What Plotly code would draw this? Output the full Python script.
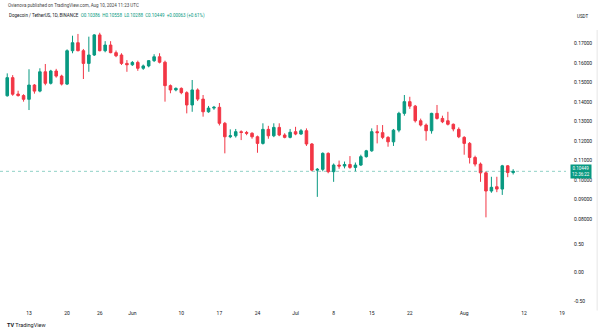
import pandas as pd
import plotly.graph_objects as go

# ---- data ----
dates = pd.date_range("2024-05-09", "2024-08-10", freq="D")

opens = [0.1432, 0.1525, 0.1441, 0.1433, 0.1414, 0.1487, 0.1456, 0.1555, 0.1496, 0.1559,
         0.1533, 0.1492, 0.1663, 0.1704, 0.1663, 0.1598, 0.1641, 0.1744, 0.1663, 0.1692,
         0.1653, 0.1641, 0.1598,
         0.1591, 0.1603, 0.1573, 0.1585, 0.1612, 0.1632, 0.1604, 0.1484, 0.1462, 0.1470,
         0.1448, 0.1385, 0.1462, 0.1415, 0.1350, 0.1369, 0.1373, 0.1291, 0.1222, 0.1227,
         0.1248, 0.1244, 0.1240, 0.1222, 0.1188, 0.1260, 0.1227, 0.1270, 0.1231, 0.1219,
         0.1248, 0.1236, 0.1253, 0.1185, 0.1051, 0.1055, 0.1137, 0.1043, 0.1077, 0.1072,
         0.1080, 0.1065, 0.1077, 0.1120, 0.1150, 0.1248, 0.1243, 0.1219, 0.1196, 0.1256,
         0.1342, 0.1402, 0.1379, 0.1304, 0.1282, 0.1253, 0.1342, 0.1316, 0.1304, 0.1286,
         0.1260,
         0.1219, 0.1188, 0.1116, 0.1082, 0.1037, 0.0944, 0.0966, 0.0954, 0.1073, 0.10386]

highs = [0.1547, 0.1538, 0.1458, 0.1440, 0.1568, 0.1492, 0.1573, 0.1595, 0.1565, 0.1570,
         0.1540, 0.1670, 0.1740, 0.1749, 0.1672, 0.1735, 0.1748, 0.1755, 0.1712, 0.1712,
         0.1664, 0.1650, 0.1615,
         0.1610, 0.1612, 0.1592, 0.1615, 0.1645, 0.1650, 0.1612, 0.1490, 0.1475, 0.1475,
         0.1455, 0.1513, 0.1470, 0.1436, 0.1380, 0.1380, 0.1395, 0.1298, 0.1260, 0.1262,
         0.1255, 0.1252, 0.1245, 0.1228, 0.1291, 0.1278, 0.1291, 0.1291, 0.1240, 0.1262,
         0.1273, 0.1262, 0.1265, 0.1190, 0.1062, 0.1142, 0.1142, 0.1085, 0.1100, 0.1095,
         0.1123, 0.1090, 0.1130, 0.1155, 0.1265, 0.1282, 0.1282, 0.1225, 0.1262, 0.1350,
         0.1436, 0.1427, 0.1385, 0.1315, 0.1290, 0.1345, 0.1385, 0.1330, 0.1350, 0.1290,
         0.1270,
         0.1225, 0.1195, 0.1125, 0.1090, 0.1045, 0.1017, 0.1017, 0.1078, 0.1077, 0.10558]

lows = [0.1428, 0.1432, 0.1428, 0.1402, 0.1359, 0.1443, 0.1450, 0.1486, 0.1490, 0.1525,
        0.1485, 0.1487, 0.1650, 0.1660, 0.1518, 0.1555, 0.1636, 0.1660, 0.1655, 0.1650,
        0.1630, 0.1590, 0.1555,
        0.1585, 0.1560, 0.1565, 0.1578, 0.1605, 0.1598, 0.1402, 0.1445, 0.1455, 0.1440,
        0.1342, 0.1350, 0.1405, 0.1325, 0.1345, 0.1360, 0.1280, 0.1137, 0.1215, 0.1218,
        0.1205, 0.1230, 0.1212, 0.1140, 0.1182, 0.1212, 0.1220, 0.1225, 0.1214, 0.1214,
        0.1230, 0.1232, 0.1175, 0.1045, 0.0914, 0.1045, 0.1035, 0.0991, 0.1058, 0.1060,
        0.1058, 0.1045, 0.1072, 0.1115, 0.1145, 0.1188, 0.1210, 0.1171, 0.1175, 0.1245,
        0.1330, 0.1365, 0.1295, 0.1275, 0.1202, 0.1238, 0.1310, 0.1292, 0.1280, 0.1250,
        0.1215,
        0.1130, 0.1085, 0.1070, 0.0991, 0.0809, 0.0935, 0.0938, 0.0924, 0.1015, 0.10288]

closes = [0.1525, 0.1440, 0.1433, 0.1414, 0.1487, 0.1456, 0.1555, 0.1496, 0.1559, 0.1533,
          0.1492, 0.1663, 0.1704, 0.1663, 0.1598, 0.1641, 0.1744, 0.1663, 0.1692, 0.1653,
          0.1637, 0.1598, 0.1591,
          0.1603, 0.1573, 0.1585, 0.1612, 0.1632, 0.1604, 0.1484, 0.1462, 0.1470, 0.1448,
          0.1385, 0.1462, 0.1415, 0.1350, 0.1369, 0.1373, 0.1291, 0.1222, 0.1227, 0.1248,
          0.1244, 0.1240, 0.1222, 0.1188, 0.1260, 0.1227, 0.1270, 0.1231, 0.1219, 0.1245,
          0.1236, 0.1253, 0.1185, 0.1051, 0.1055, 0.1137, 0.1043, 0.1077, 0.1072, 0.1080,
          0.1065, 0.1077, 0.1120, 0.1150, 0.1248, 0.1243, 0.1219, 0.1196, 0.1256, 0.1342,
          0.1402, 0.1379, 0.1304, 0.1282, 0.1253, 0.1342, 0.1316, 0.1299, 0.1286, 0.1262,
          0.1222,
          0.1188, 0.1116, 0.1082, 0.1037, 0.0944, 0.0963, 0.0954, 0.1073, 0.10386, 0.10449]

price_ticks = [0.08, 0.09, 0.10, 0.11, 0.12, 0.13, 0.14, 0.15, 0.16, 0.17]
pane_ticks = [0.5, 0.0, -0.5]
x_tick_dates = ["2024-05-13", "2024-05-20", "2024-05-26", "2024-06-01", "2024-06-10",
                "2024-06-17", "2024-06-24", "2024-07-01", "2024-07-08", "2024-07-15",
                "2024-07-22", "2024-08-01", "2024-08-12", "2024-08-19"]
x_tick_text = ["13", "20", "26", "Jun", "10", "17", "24", "Jul", "8", "15", "22", "Aug", "12", "19"]

UP = "#089981"
DOWN = "#F23645"
TXT = "#131722"
FONT = "Roboto"

fig = go.Figure()
fig.add_trace(go.Candlestick(
    x=dates, open=opens, high=highs, low=lows, close=closes,
    increasing=dict(line=dict(color=UP, width=1), fillcolor=UP),
    decreasing=dict(line=dict(color=DOWN, width=1), fillcolor=DOWN),
    whiskerwidth=0, xaxis="x", yaxis="y", showlegend=False, hoverinfo="skip",
))
# empty lower pane (indicator pane without data)
fig.add_trace(go.Scatter(x=[None], y=[None], xaxis="x", yaxis="y2",
                         showlegend=False, hoverinfo="skip"))

last_close = closes[-1]

x0 = pd.Timestamp("2024-05-13") - pd.Timedelta(days=5.331)
x1 = pd.Timestamp("2024-05-13") + pd.Timedelta(days=98.713)

fig.update_layout(
    width=600, height=333,
    margin=dict(l=0, r=34, t=30, b=28),
    paper_bgcolor="white", plot_bgcolor="white",
    font=dict(family=FONT, size=5, color=TXT),
    boxgap=0.33,
    xaxis=dict(
        type="date", range=[x0, x1], anchor="y2",
        rangeslider=dict(visible=False),
        showgrid=False, zeroline=False, showline=False,
        tickmode="array", tickvals=x_tick_dates, ticktext=x_tick_text,
        ticks="outside", ticklen=3, tickcolor="rgba(0,0,0,0)",
        tickfont=dict(size=5, color=TXT, family=FONT),
    ),
    yaxis=dict(
        domain=[0.265, 1.0], range=[0.07333, 0.17692], side="right", anchor="x",
        showgrid=False, zeroline=False, showline=False,
        tickmode="array", tickvals=price_ticks,
        ticktext=[f"{v:.5f}" for v in price_ticks],
        ticks="outside", ticklen=6, tickcolor="rgba(0,0,0,0)",
        tickfont=dict(size=5, color=TXT, family=FONT),
    ),
    yaxis2=dict(
        domain=[0.0, 0.2545], range=[-0.570, 0.658], side="right", anchor="x",
        showgrid=False, zeroline=False, showline=False,
        tickmode="array", tickvals=pane_ticks,
        ticktext=[f"{v:.2f}" for v in pane_ticks],
        ticks="outside", ticklen=6, tickcolor="rgba(0,0,0,0)",
        tickfont=dict(size=5, color=TXT, family=FONT),
    ),
)

# current price line
fig.add_shape(type="line", xref="paper", yref="y", x0=0, x1=1.0,
              y0=last_close, y1=last_close,
              line=dict(color="rgba(8,153,129,0.45)", width=1, dash="dot"))

# right border line of the chart frame
fig.add_shape(type="line", xref="paper", yref="paper", x0=1.055, x1=1.055, y0=-0.02, y1=1.0,
              line=dict(color="#e6e6e6", width=1))

annotations = [
    dict(text="Ovienova published on TradingView.com, Aug 10, 2024 11:23 UTC",
         xref="paper", yref="paper", x=0.01, y=1.0 + 25 / 275, xanchor="left", yanchor="middle",
         showarrow=False, font=dict(size=4.5, color="#444", family=FONT)),
    dict(text=("Dogecoin / TetherUS, 1D, BINANCE  "
               f"<span style='color:{UP}'>O0.10386  H0.10558  L0.10288  C0.10449  +0.00063 (+0.61%)</span>"),
         xref="paper", yref="paper", x=0.012, y=1.0 + 14 / 275, xanchor="left", yanchor="middle",
         showarrow=False, font=dict(size=4.5, color=TXT, family=FONT)),
    dict(text="USDT", xref="paper", yref="paper", x=1.03, y=1.0 + 13 / 275,
         xanchor="center", yanchor="middle", showarrow=False,
         font=dict(size=4.5, color=TXT, family=FONT)),
    dict(text=f"{last_close:.5f}<br>12:36:22", xref="paper", yref="y",
         x=1.0 + 15 / 566, y=last_close, xanchor="center", yanchor="middle",
         showarrow=False, bgcolor=UP, borderpad=1,
         font=dict(size=4.5, color="white", family=FONT)),
    dict(text="<b>TV</b> TradingView", xref="paper", yref="paper",
         x=0.008, y=-(20 / 275), xanchor="left", yanchor="middle", showarrow=False,
         font=dict(size=5.5, color=TXT, family=FONT)),
]
fig.update_layout(annotations=annotations)

fig.write_html("out.html")
